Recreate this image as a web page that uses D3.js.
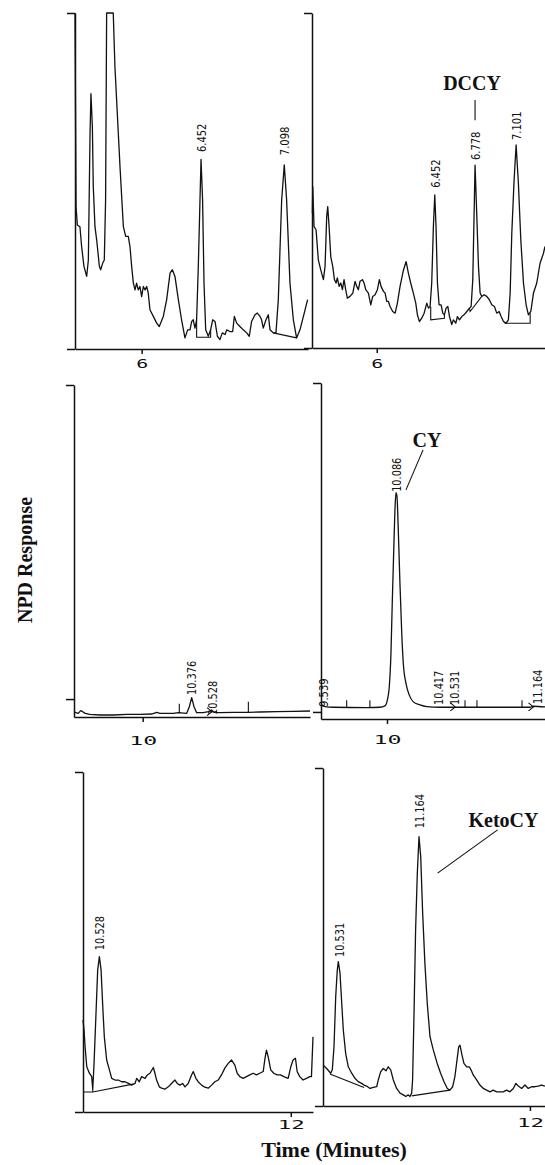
<!DOCTYPE html>
<html>
<head>
<meta charset="utf-8">
<script src="https://cdn.jsdelivr.net/npm/d3@7"></script>
<style>
  body { margin: 0; background: #fff; }
  svg { display: block; }
  .trace { fill: none; stroke: #111; stroke-width: 1.3; stroke-linejoin: round; }
  .base { fill: none; stroke: #111; stroke-width: 1.1; }
  .axis path, .axis line { stroke: #111; stroke-width: 1.5; }
  .pk { font-family: "Liberation Sans Narrow", "Arial Narrow", "DejaVu Sans Condensed", sans-serif; font-size: 13px; fill: #111; }
  .note { font-family: "Liberation Serif", "Times New Roman", serif; font-weight: bold; font-size: 20px; fill: #111; }
  .title { font-family: "Liberation Serif", "Times New Roman", serif; font-weight: bold; fill: #111; }
</style>
</head>
<body>
<script>
// chromatogram traces: [time (min), response (% of panel height)]
const traceTL = [[5.486,100],[5.494,42.4],[5.504,36.9],[5.524,36.4],[5.537,30.5],[5.555,24.6],[5.576,21.6],[5.589,26.5],[5.602,64.2],[5.609,76.0],[5.620,66.1],[5.627,48.3],[5.640,36.4],[5.653,32.5],[5.674,24.6],[5.684,23.6],[5.699,25.5],[5.712,26.5],[5.722,44.4],[5.730,100],[5.781,100],[5.794,84.0],[5.820,64.2],[5.833,54.3],[5.859,36.4],[5.877,33.5],[5.897,33.5],[5.910,30.5],[5.923,24.6],[5.936,19.6],[5.949,17.6],[5.961,19.6],[5.974,17.6],[5.987,18.6],[6.000,15.6],[6.013,18.6],[6.026,17.6],[6.039,18.6],[6.051,16.6],[6.064,11.7],[6.090,9.7],[6.116,7.7],[6.136,6.7],[6.167,9.7],[6.193,14.7],[6.219,22.6],[6.237,23.6],[6.257,21.6],[6.283,14.7],[6.308,8.7],[6.334,3.3],[6.355,5.7],[6.373,5.7],[6.386,8.2],[6.398,8.7],[6.411,6.2],[6.424,8.7],[6.437,24.6],[6.450,44.4],[6.458,56.4],[6.470,44.4],[6.481,19.6],[6.494,5.7],[6.514,3.8],[6.532,5.7],[6.548,8.7],[6.566,8.2],[6.584,3.8],[6.604,2.8],[6.622,4.8],[6.643,4.3],[6.656,5.7],[6.681,5.2],[6.702,5.2],[6.715,9.7],[6.733,7.7],[6.758,6.7],[6.784,5.7],[6.810,4.8],[6.830,3.8],[6.848,8.2],[6.874,10.2],[6.892,10.7],[6.913,9.7],[6.925,8.7],[6.938,6.2],[6.959,8.7],[6.977,10.2],[6.990,5.7],[7.015,4.8],[7.036,4.8],[7.054,14.7],[7.080,44.4],[7.100,54.8],[7.118,44.4],[7.144,19.6],[7.170,8.7],[7.195,3.3],[7.221,5.7],[7.254,10.7],[7.280,14.7]]

const traceTR = [[5.492,40.2],[5.495,48.2],[5.505,36.2],[5.521,35.3],[5.539,26.3],[5.558,23.3],[5.579,20.4],[5.592,24.3],[5.605,39.2],[5.613,42.2],[5.624,36.2],[5.637,27.3],[5.653,24.3],[5.666,20.4],[5.679,19.4],[5.689,20.9],[5.703,18.4],[5.716,19.4],[5.729,17.4],[5.742,20.4],[5.755,17.4],[5.768,14.9],[5.789,15.4],[5.811,16.4],[5.829,19.9],[5.842,18.4],[5.855,17.4],[5.868,19.9],[5.887,20.4],[5.900,19.4],[5.913,17.4],[5.934,16.4],[5.953,12.9],[5.968,15.4],[5.987,15.9],[6.005,17.4],[6.021,20.4],[6.034,18.4],[6.053,16.9],[6.066,16.4],[6.079,13.9],[6.092,13.9],[6.105,12.4],[6.126,10.9],[6.145,10.4],[6.163,13.4],[6.184,18.4],[6.211,23.3],[6.232,25.8],[6.250,22.3],[6.268,19.4],[6.289,16.4],[6.308,13.4],[6.321,9.9],[6.337,7.9],[6.355,8.9],[6.374,10.4],[6.395,13.4],[6.408,11.9],[6.421,12.4],[6.434,19.4],[6.447,36.2],[6.458,45.7],[6.468,36.2],[6.479,19.4],[6.492,12.9],[6.508,12.9],[6.521,10.4],[6.534,9.9],[6.547,11.9],[6.561,12.4],[6.574,9.4],[6.592,7.0],[6.605,8.4],[6.624,7.4],[6.637,9.4],[6.653,8.4],[6.671,9.4],[6.689,9.9],[6.711,10.9],[6.732,11.9],[6.745,12.4],[6.758,20.4],[6.768,39.2],[6.776,54.6],[6.789,40.2],[6.803,24.3],[6.816,16.4],[6.829,15.4],[6.847,15.9],[6.868,15.4],[6.889,14.4],[6.908,12.9],[6.929,12.4],[6.947,10.4],[6.966,10.9],[6.982,9.4],[7.000,7.9],[7.021,7.4],[7.039,8.4],[7.053,16.4],[7.066,34.3],[7.084,50.1],[7.100,60.6],[7.118,49.2],[7.137,32.3],[7.158,19.4],[7.179,12.9],[7.197,9.9],[7.216,10.9],[7.237,16.4],[7.263,19.4],[7.289,25.3],[7.316,28.3],[7.328,30.3]]

const traceML = [[9.476,1.5],[9.488,1.3],[9.506,1.1],[9.524,1.9],[9.540,1.6],[9.558,1.1],[9.596,0.8],[9.673,0.6],[9.775,0.6],[9.877,0.8],[9.980,0.8],[10.069,0.9],[10.107,1.4],[10.133,1.1],[10.235,1.1],[10.274,1.3],[10.338,1.1],[10.358,3.1],[10.376,5.8],[10.394,3.1],[10.414,1.3],[10.465,1.3],[10.504,1.6],[10.529,2.1],[10.547,1.4],[10.593,1.3],[10.696,1.4],[10.811,1.4],[10.900,1.5],[11.028,1.6],[11.156,1.7],[11.284,1.8]]

const traceMR = [[9.491,4.2],[9.517,3.7],[9.582,3.5],[9.842,3.4],[9.945,3.5],[9.984,3.9],[10.003,5.7],[10.018,9.6],[10.031,19.6],[10.041,34.4],[10.052,49.3],[10.062,62.2],[10.070,67.4],[10.078,66.2],[10.088,56.3],[10.101,40.4],[10.115,25.5],[10.127,16.6],[10.148,10.6],[10.174,7.1],[10.205,5.1],[10.257,4.2],[10.309,3.7],[10.413,3.5],[10.621,3.5],[10.881,3.5],[11.115,3.5],[11.140,3.8],[11.231,3.6]]

const traceBL = [[10.402,27.1],[10.410,24.1],[10.418,19.2],[10.431,13.3],[10.451,11.4],[10.469,10.4],[10.477,6.7],[10.487,14.3],[10.502,29.0],[10.515,41.8],[10.528,45.7],[10.541,41.8],[10.554,31.0],[10.566,22.1],[10.584,15.3],[10.605,12.4],[10.623,9.9],[10.648,9.4],[10.674,9.4],[10.699,8.9],[10.725,8.9],[10.751,8.4],[10.776,7.9],[10.802,8.4],[10.815,9.9],[10.835,8.9],[10.853,10.4],[10.879,9.9],[10.897,10.9],[10.917,11.4],[10.943,13.1],[10.955,11.4],[10.968,9.4],[10.989,7.4],[11.007,7.0],[11.032,6.7],[11.058,7.4],[11.083,8.4],[11.109,9.4],[11.127,8.4],[11.147,7.9],[11.168,8.4],[11.186,7.4],[11.211,8.4],[11.237,10.9],[11.250,11.9],[11.270,9.9],[11.288,8.9],[11.314,7.9],[11.339,7.3],[11.365,7.0],[11.391,7.9],[11.416,8.9],[11.442,9.4],[11.467,10.9],[11.493,12.9],[11.519,14.3],[11.544,15.3],[11.570,13.8],[11.588,11.4],[11.608,10.4],[11.634,9.9],[11.659,10.4],[11.685,10.9],[11.711,11.4],[11.736,10.9],[11.762,11.4],[11.788,11.9],[11.800,15.3],[11.813,18.2],[11.826,16.3],[11.846,12.4],[11.869,11.4],[11.895,10.9],[11.921,10.9],[11.946,10.4],[11.980,9.9],[12.000,13.3],[12.018,15.3],[12.036,15.8],[12.049,11.9],[12.069,10.4],[12.095,9.4],[12.120,9.9],[12.146,10.4],[12.159,10.4],[12.171,22.1]]

const traceBR = [[10.422,12.1],[10.448,11.1],[10.479,9.7],[10.491,10.7],[10.504,17.5],[10.517,32.3],[10.529,40.2],[10.537,42.7],[10.550,39.3],[10.563,30.4],[10.575,22.5],[10.593,15.6],[10.613,11.6],[10.639,9.7],[10.664,8.2],[10.689,7.2],[10.715,6.7],[10.733,6.2],[10.753,5.9],[10.779,5.2],[10.804,5.5],[10.830,5.7],[10.842,7.7],[10.860,10.1],[10.880,11.1],[10.901,10.4],[10.918,11.6],[10.937,10.7],[10.957,7.7],[10.982,5.2],[11.008,3.8],[11.033,3.3],[11.053,2.8],[11.071,3.3],[11.084,2.8],[11.097,3.8],[11.104,7.7],[11.115,27.4],[11.127,52.1],[11.140,68.8],[11.153,79.7],[11.166,73.8],[11.181,57.0],[11.198,42.2],[11.216,30.4],[11.237,20.5],[11.262,16.6],[11.292,12.6],[11.318,9.7],[11.344,7.2],[11.369,5.2],[11.389,4.7],[11.410,5.7],[11.427,8.7],[11.440,12.6],[11.456,17.5],[11.466,18.0],[11.481,15.1],[11.496,12.6],[11.517,11.6],[11.537,11.6],[11.550,10.7],[11.567,9.2],[11.593,7.7],[11.618,6.2],[11.644,5.2],[11.669,4.7],[11.695,4.2],[11.720,4.7],[11.746,4.2],[11.771,4.2],[11.796,4.2],[11.822,4.7],[11.847,4.2],[11.873,5.2],[11.893,6.7],[11.911,5.9],[11.937,5.2],[11.962,6.2],[11.987,5.2],[12.013,5.7],[12.038,5.7],[12.063,5.9],[12.089,6.2],[12.115,5.9]]

// retention time labels: printed text, apex time, response at label foot
const peaksTL = [{label: "6.452", t: 6.458, r: 58.6}, {label: "7.098", t: 7.098, r: 57.7}]
const peaksTR = [{label: "6.452", t: 6.460, r: 47.8}, {label: "6.778", t: 6.776, r: 56.1}, {label: "7.101", t: 7.099, r: 62.1}]
const peaksML = [{label: "10.376", t: 10.378, r: 6.6}, {label: "10.528", t: 10.532, r: 0.6}]
const peaksMR = [{label: "9.539", t: 9.502, r: 3.6}, {label: "10.086", t: 10.070, r: 67.6}, {label: "10.417", t: 10.398, r: 4.2}, {label: "10.531", t: 10.522, r: 4.2}, {label: "11.164", t: 11.169, r: 4.5}]
const peaksBL = [{label: "10.528", t: 10.525, r: 47.6}]
const peaksBR = [{label: "10.531", t: 10.542, r: 44.1}, {label: "11.164", t: 11.153, r: 82.2}]

// integrator baselines and drop lines
const baseTL = [[[6.424,8.7],[6.424,3.5],[6.532,3.5],[6.532,5.7]], [[7.015,4.8],[7.195,3.3]]]
const baseTR = [[[6.426,12.4],[6.426,8.4],[6.534,8.9],[6.534,9.9]], [[6.732,11.9],[6.737,10.9],[6.829,15.4]], [[7.013,7.8],[7.013,7.4],[7.211,7.4],[7.211,10.4]]]
const baseBL = [[[10.402,5.9],[10.477,5.9],[10.786,8.2]], [[10.477,6.7],[10.477,5.9]]]
const baseBR = [[[10.473,9.5],[10.733,5.5]], [[11.097,3.0],[11.389,4.7]]]

// event marks [time, from, to] and peak-start markers [time, response]
const eventsML = [[10.281,1.1,4.0],[10.811,1.4,4.6]]
const eventsMR = [[9.686,3.5,5.6],[9.867,3.5,5.6],[10.608,3.5,5.6],[10.701,3.5,5.6],[11.052,3.5,5.6]]
const marksML = [[10.509,1.6]]
const marksMR = [[10.509,3.6],[11.118,3.6]]

// compound annotations
const notesTR = [{text: "DCCY", t: 6.752, r: 77.0, line: [[6.776,74.0],[6.776,68.0]]}]
const notesMR = [{text: "CY", t: 10.312, r: 81.0, line: [[10.281,80.1],[10.148,68.2]]}]
const notesBR = [{text: "KetoCY", t: 11.798, r: 82.5, line: [[11.753,81.7],[11.295,68.9]]}]

const panels = [
  {trace: traceTL, peaks: peaksTL, base: baseTL, events: [], marks: [], notes: [], domain: [5.486, 7.283], left: 75, right: 308, top: 13, bottom: 349, xticks: [6], yticks: [0, 100], labOff: 14, labW: 12},
  {trace: traceTR, peaks: peaksTR, base: baseTR, events: [], marks: [], notes: notesTR, domain: [5.489, 7.328], left: 312, right: 545, top: 13, bottom: 348, xticks: [6], yticks: [0, 100], labOff: 15, labW: 12},
  {trace: traceML, peaks: peaksML, base: [], events: eventsML, marks: marksML, notes: [], domain: [9.473, 11.284], left: 74, right: 310, top: 385, bottom: 717, xticks: [10], yticks: [5.4, 100], labOff: 23, labW: 28},
  {trace: traceMR, peaks: peaksMR, base: [], events: eventsMR, marks: marksMR, notes: notesMR, domain: [9.486, 11.231], left: 321, right: 545, top: 383, bottom: 719, xticks: [10], yticks: [2.1, 100], labOff: 20, labW: 28, smooth: true},
  {trace: traceBL, peaks: peaksBL, base: baseBL, events: [], marks: [], notes: [], domain: [10.402, 12.171], left: 83, right: 313, top: 772, bottom: 1112, xticks: [12], yticks: [0, 100], labOff: 12, labW: 27},
  {trace: traceBR, peaks: peaksBR, base: baseBR, events: [], marks: [], notes: notesBR, domain: [10.420, 12.115], left: 323, right: 545, top: 768, bottom: 1106, xticks: [12], yticks: [0, 100], labOff: 16, labW: 27}
]

const svg = d3.select("body").append("svg").attr("width", 545).attr("height", 1165)

panels.forEach(p => {
  const x = d3.scaleLinear().domain(p.domain).range([p.left, p.right])
  const y = d3.scaleLinear().domain([0, 100]).range([p.bottom, p.top])
  const g = svg.append("g")

  g.append("g").attr("class", "axis").attr("transform", `translate(${p.left},0)`)
    .call(d3.axisLeft(y).tickValues(p.yticks).tickSize(8).tickSizeOuter(0).tickFormat(""))

  const xa = g.append("g").attr("class", "axis").attr("transform", `translate(0,${p.bottom})`)
    .call(d3.axisBottom(x).tickValues(p.xticks).tickSize(5).tickSizeOuter(0).tickFormat(d3.format("d")))
  xa.selectAll(".tick text")
    .attr("y", p.labOff).attr("dy", "0.35em")
    .attr("font-family", "'DejaVu Sans Mono', monospace").attr("font-size", 13)
    .attr("textLength", p.labW).attr("lengthAdjust", "spacingAndGlyphs")
    .attr("fill", "#111")

  const line = d3.line().x(d => x(d[0])).y(d => y(d[1]))
  if (p.smooth) line.curve(d3.curveMonotoneX)

  g.append("path").datum(p.trace).attr("class", "trace").attr("d", line)

  const flat = d3.line().x(d => x(d[0])).y(d => y(d[1]))
  g.selectAll(".base").data(p.base).join("path").attr("class", "base").attr("d", flat)

  g.selectAll(".ev").data(p.events).join("line").attr("class", "base")
    .attr("x1", d => x(d[0])).attr("x2", d => x(d[0]))
    .attr("y1", d => y(d[1])).attr("y2", d => y(d[2]))

  g.selectAll(".mk").data(p.marks).join("path").attr("class", "base")
    .attr("d", d => `M${x(d[0]) - 2},${y(d[1]) - 4}L${x(d[0]) + 3},${y(d[1])}L${x(d[0]) - 2},${y(d[1]) + 4}`)

  // printed retention times are narrow, keep them about 5.7px per character
  g.selectAll(".pk").data(p.peaks).join("text").attr("class", "pk")
    .attr("transform", d => `translate(${x(d.t)},${y(d.r)}) rotate(-90)`)
    .attr("dy", "0.35em")
    .attr("textLength", d => d.label.length * 5.7).attr("lengthAdjust", "spacingAndGlyphs")
    .text(d => d.label)

  p.notes.forEach(n => {
    g.append("text").attr("class", "note")
      .attr("x", x(n.t)).attr("y", y(n.r)).attr("text-anchor", "middle").text(n.text)
    g.append("path").attr("class", "base").attr("stroke-width", 1.6).attr("d", flat(n.line))
  })
})

svg.append("text").attr("class", "title").attr("font-size", 20)
  .attr("transform", "translate(32,560) rotate(-90)").attr("text-anchor", "middle")
  .text("NPD Response")

svg.append("text").attr("class", "title").attr("font-size", 22)
  .attr("x", 334).attr("y", 1157).attr("text-anchor", "middle")
  .text("Time (Minutes)")
</script>
</body>
</html>
